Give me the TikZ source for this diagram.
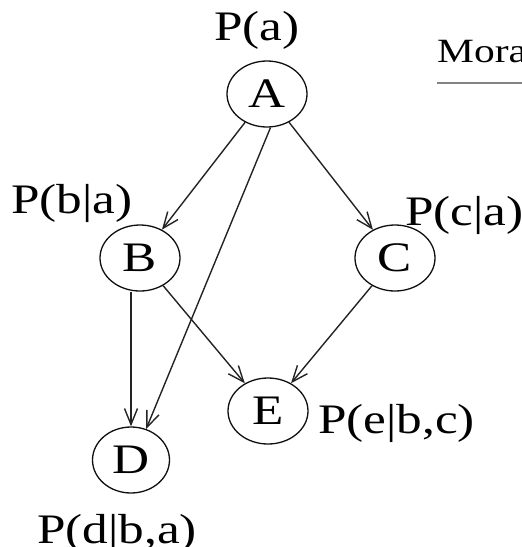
\documentclass[tikz,border=0pt]{standalone}
\usepackage{fontspec}
\setmainfont{Liberation Serif}[FakeStretch=1.22]
\usepackage{tikz}
\usetikzlibrary{arrows.meta,shapes.geometric}
\definecolor{ink}{RGB}{15,15,15}
\definecolor{edge}{RGB}{35,35,35}
\definecolor{rule}{RGB}{130,130,130}
\tikzset{
  var/.style={ellipse,draw=ink,line width=1.3pt,minimum width=80pt,minimum height=66pt,
    inner sep=0pt,font=\fontsize{42}{46}\selectfont},
  prob/.style={inner sep=0pt,font=\fontsize{42}{48}\selectfont},
  arr/.style={-{Straight Barb[length=16pt,width=13pt]},line width=1.4pt,edge},
}
\begin{document}
\begin{tikzpicture}[x=1pt,y=-1pt]
  \useasboundingbox (0,0) rectangle (522,547);
  % the network
  \node[var] (A) at (267,94) {A};
  \node[var] (B) at (140,258) {B};
  \node[var] (C) at (395,258) {C};
  \node[var] (E) at (268,411) {E};
  \node[var,minimum width=77pt] (D) at (131,460) {D};
  % conditional probabilities
  \node[prob,anchor=base] (pa) at (257,40) {P(a)};
  \node[prob,anchor=base] (pba) at (72,213) {P(b|a)};
  \node[prob,anchor=base west] (pca) at (405,225) {P(c|a)};
  \node[prob,anchor=base west] (pebc) at (318,433) {P(e|b,c)};
  \node[prob,anchor=base] (pdba) at (117,543) {P(d|b,a)};
  % cut-off heading
  \node[anchor=base west,inner sep=0pt,font=\fontsize{34}{40}\selectfont] (mora) at (437,62) {Mora};
  \coordinate (ruleL) at (437,83);
  \coordinate (ruleR) at (530,83);
  \draw[rule,line width=2pt] (ruleL) -- (ruleR);
  % edges
  \draw[arr] (A) -- (B);
  \draw[arr] (A) -- (C);
  \draw[arr] (A.-84) -- (D.64);
  \draw[arr] (B.south -| D.north) -- (D.north);
  \draw[arr] (B) -- (E);
  \draw[arr] (C) -- (E);
\end{tikzpicture}
\end{document}
